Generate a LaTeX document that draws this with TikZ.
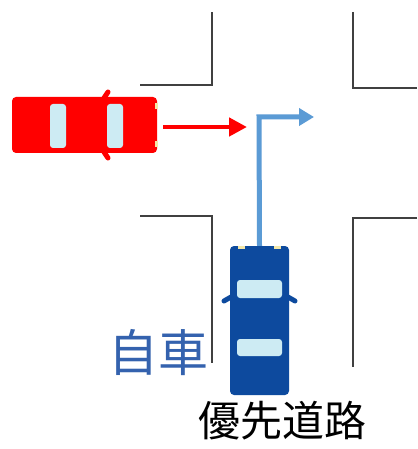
\documentclass[tikz,border=0pt]{standalone}
\usepackage{fontspec}
\newfontfamily\jpfont{Noto Sans CJK JP}
\usetikzlibrary{arrows.meta}
\definecolor{roadline}{HTML}{404040}
\definecolor{carred}{HTML}{FF0000}
\definecolor{carblue}{HTML}{0D4A9E}
\definecolor{glass}{HTML}{CDEBF3}
\definecolor{lamp}{HTML}{F3E7A8}
\definecolor{pathblue}{HTML}{5B9BD5}
\definecolor{labelblue}{HTML}{3462AE}
\tikzset{
  road/.style={draw=roadline, line width=1.8pt},
  carbody/.style={rectangle, rounded corners=4pt, inner sep=0pt},
  window/.style={fill=glass, rounded corners=3pt},
  headlamp/.style={fill=lamp},
  mirror/.style={line width=5pt, line cap=round},
  redarrow/.style={draw=carred, line width=4.5pt, -{Triangle[length=18pt,width=18pt]}},
  bluearrow/.style={draw=pathblue, line width=5pt, -{Triangle[length=15pt,width=17pt]}}
}
\begin{document}
\begin{tikzpicture}[x=1pt,y=-1pt]
\useasboundingbox (0,0) rectangle (417,449);
\fill[white] (0,0) rectangle (417,449);

% road edges of the crossing
\draw[road] (140,85) -- (212,85) -- (212,12);
\draw[road] (353,12) -- (353,88) -- (417,88);
\draw[road] (140,216) -- (212,216) -- (212,363);
\draw[road] (417,218) -- (353,218) -- (353,367);

% red car heading east
\draw[mirror, carred] (104,98) -- (108,92);
\draw[mirror, carred] (104,152) -- (108,158);
\node[carbody, fill=carred, minimum width=145pt, minimum height=56pt] (redcar) at (84.5,125) {};
\fill[window] (50,104) rectangle (66,148);
\fill[window] (107,104) rectangle (123,148);
\fill[headlamp] (155,103) rectangle (158,109);
\fill[headlamp] (155,141) rectangle (158,147);

% blue car heading north
\draw[mirror, carblue] (231,297) -- (224,301);
\draw[mirror, carblue] (288,297) -- (295,301);
\node[carbody, fill=carblue, minimum width=59pt, minimum height=149pt] (bluecar) at (259.5,320.5) {};
\fill[window] (237,280) rectangle (282,298);
\fill[window] (237,339) rectangle (282,356);
\fill[headlamp] (238,246) rectangle (245,249);
\fill[headlamp] (274,246) rectangle (281,249);

% movement arrows
\coordinate (redtip) at (247,127);
\coordinate (turn) at (259,117);
\coordinate (bluetip) at (314,117);
\draw[redarrow] ([xshift=6pt]redcar.east |- redtip) -- (redtip);
\draw[bluearrow] (bluecar.north) -- (turn) -- (bluetip);

% labels
\node[text=labelblue, font=\jpfont\fontsize{50}{54}\selectfont, inner sep=0pt] (own) at (158,353) {自車};
\node[text=black, font=\jpfont\fontsize{42}{46}\selectfont, inner sep=0pt] (priority) at (282,421) {優先道路};
\end{tikzpicture}
\end{document}
